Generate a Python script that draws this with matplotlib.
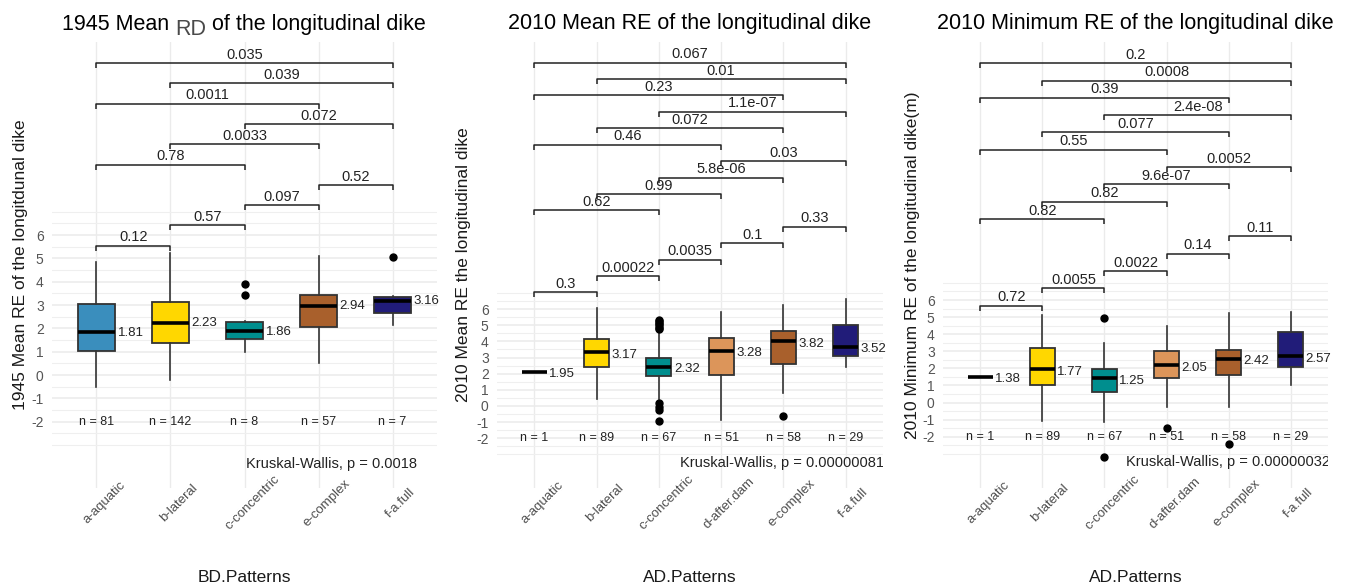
import numpy as np
import matplotlib
matplotlib.use("Agg")
import matplotlib.pyplot as plt
from matplotlib.transforms import blended_transform_factory, ScaledTranslation

plt.rcParams["font.family"] = ["Liberation Sans", "DejaVu Sans"]
plt.rcParams["axes.unicode_minus"] = False

# ---- data ----
colors = {
    "a-aquatic": "#3a8ebd",
    "b-lateral": "#ffd700",
    "c-concentric": "#008e8e",
    "d-after.dam": "#dc955a",
    "e-complex": "#a9602c",
    "f-a.full": "#211c79",
}

# panel 1 (1945, BD.Patterns)
p1_cats = ["a-aquatic", "b-lateral", "c-concentric", "e-complex", "f-a.full"]
p1_n = [81, 142, 8, 57, 7]
p1_whislo = [-0.5, -0.21, 0.99, 0.51, 2.14]
p1_q1 = [1.03, 1.37, 1.54, 2.06, 2.66]
p1_med = [1.83, 2.23, 1.89, 2.96, 3.17]
p1_q3 = [3.03, 3.13, 2.27, 3.43, 3.34]
p1_whishi = [4.86, 5.23, 2.3, 5.1, 3.4]
p1_fliers = [[], [], [3.43, 3.9], [], [5.06]]
p1_means = [1.81, 2.23, 1.86, 2.94, 3.16]
p1_pvals = ["0.12", "0.57", "0.097", "0.52", "0.78", "0.0033", "0.072",
            "0.0011", "0.039", "0.035"]
p1_kw = "Kruskal-Wallis, p = 0.0018"

# panel 2 (2010 mean, AD.Patterns)
p2_cats = ["a-aquatic", "b-lateral", "c-concentric", "d-after.dam",
           "e-complex", "f-a.full"]
p2_n = [1, 89, 67, 51, 58, 29]
p2_whislo = [2.1, 0.43, 0.4, -0.87, 0.79, 2.4]
p2_q1 = [2.1, 2.44, 1.86, 1.93, 2.59, 3.1]
p2_med = [2.1, 3.33, 2.44, 3.41, 4.0, 3.68]
p2_q3 = [2.1, 4.16, 2.96, 4.24, 4.62, 4.99]
p2_whishi = [2.1, 6.1, 4.6, 5.82, 6.27, 6.64]
p2_fliers = [[], [],
             [4.75, 4.85, 4.95, 5.05, 5.15, 5.25, 5.3, 0.17, -0.04, -0.25, -0.91],
             [], [-0.6], []]
p2_means = [1.95, 3.17, 2.32, 3.28, 3.82, 3.52]
p2_pvals = ["0.3", "0.00022", "0.0035", "0.1", "0.33", "0.62", "0.99",
            "5.8e-06", "0.03", "0.46", "0.072", "1.1e-07", "0.23", "0.01", "0.067"]
p2_kw = "Kruskal-Wallis, p = 0.00000081"

# panel 3 (2010 minimum, AD.Patterns)
p3_cats = p2_cats
p3_n = [1, 89, 67, 51, 58, 29]
p3_whislo = [1.5, -1.07, -1.13, -0.25, -0.28, 1.02]
p3_q1 = [1.5, 1.02, 0.6, 1.41, 1.61, 2.06]
p3_med = [1.5, 1.97, 1.45, 2.19, 2.55, 2.73]
p3_q3 = [1.5, 3.2, 1.97, 3.01, 3.07, 4.13]
p3_whishi = [1.5, 5.12, 3.46, 4.47, 5.25, 5.3]
p3_fliers = [[], [], [4.96, -3.17], [-1.46], [-2.4], []]
p3_means = [1.38, 1.77, 1.25, 2.05, 2.42, 2.57]
p3_pvals = ["0.72", "0.0055", "0.0022", "0.14", "0.11", "0.82", "0.82",
            "9.6e-07", "0.0052", "0.55", "0.077", "2.4e-08", "0.39", "0.0008", "0.2"]
p3_kw = "Kruskal-Wallis, p = 0.00000032"

W, H = 1349, 583
fig = plt.figure(figsize=(W / 100, H / 100), dpi=100)
TOP, BOTTOM = 42, 488


def make_axes(left, width):
    return fig.add_axes([left / W, (H - BOTTOM) / H, width / W, (BOTTOM - TOP) / H])


def draw_panel(ax, cats, n, whislo, q1, med, q3, whishi, fliers, means, pvals,
               kw, ylim, width, br_start, br_step, kw_pos, ylabel, ylab_x, xlabel):
    xs = np.arange(1, len(cats) + 1)
    stats = []
    for i in range(len(cats)):
        stats.append(dict(whislo=whislo[i], q1=q1[i], med=med[i], q3=q3[i],
                          whishi=whishi[i], fliers=fliers[i]))
    bp = ax.bxp(stats, positions=xs, widths=width, patch_artist=True,
                showcaps=False,
                boxprops=dict(edgecolor="#333333", linewidth=1.3),
                medianprops=dict(color="black", linewidth=2.6),
                whiskerprops=dict(color="#333333", linewidth=1.2),
                flierprops=dict(marker="o", markerfacecolor="black",
                                markeredgecolor="black", markersize=5))
    for patch, c in zip(bp["boxes"], cats):
        patch.set_facecolor(colors[c])
    for b in bp["boxes"]:
        b.set_zorder(2)

    # value labels and counts
    for x, m, k in zip(xs, means, n):
        ax.text(x + width / 2 + 0.04, m, f"{m:.2f}", ha="left", va="center",
                fontsize=9.5, color="#222222")
        ax.text(x, -2, f"n = {k}", ha="center", va="center", fontsize=9,
                color="#222222")

    ax.set_xlim(0.4, len(cats) + 0.6)
    ax.set_ylim(*ylim)

    # significance brackets, stacked
    bbox = ax.get_window_extent()
    px_per_unit = bbox.height / (ylim[1] - ylim[0])
    tip = 5 / px_per_unit
    pairs = []
    for gap in range(1, len(cats)):
        for i in range(len(cats) - gap):
            pairs.append((xs[i], xs[i + gap]))
    for k, ((a, b), lab) in enumerate(zip(pairs, pvals)):
        y = br_start + k * br_step
        ax.plot([a, a, b, b], [y - tip, y, y, y - tip], color="#222222", lw=1.1,
                solid_capstyle="butt")
        ax.annotate(lab, ((a + b) / 2, y), xytext=(0, 1), textcoords="offset points",
                    ha="center", va="bottom", fontsize=10.5, color="#222222")

    ax.text(kw_pos[0], kw_pos[1], kw, ha="left", va="center", fontsize=10.5,
            color="#222222", clip_on=True)

    # grid & axes styling
    ax.set_xticks(xs)
    ax.set_xticklabels([])
    ax.set_yticks(np.arange(-2, 7))
    ax.set_yticks(np.arange(-3, 7.01, 0.5), minor=True)
    ax.grid(axis="x", which="major", color="#ebebeb", lw=1.0)
    ax.grid(axis="y", which="major", color="#ebebeb", lw=1.1)
    ax.grid(axis="y", which="minor", color="#efefef", lw=0.8)
    ax.set_axisbelow(True)
    ax.tick_params(which="both", length=0)
    ax.tick_params(axis="y", labelsize=10, labelcolor="#555555", pad=6)
    for s in ax.spines.values():
        s.set_visible(False)

    trans = blended_transform_factory(ax.transData, ax.transAxes) + \
        ScaledTranslation(8 / 100, -15 / 100, fig.dpi_scale_trans)
    for x, c in zip(xs, cats):
        ax.text(x, 0, c, transform=trans, rotation=45, ha="center", va="center",
                fontsize=9.5, color="#4d4d4d")

    ax.set_ylabel(ylabel, fontsize=12.5, color="#1a1a1a", va="center")
    ax.yaxis.set_label_coords(ylab_x, 0.5)
    c_x = (bbox.x0 + bbox.x1) / 2 / W
    fig.text(c_x, 1 - 577 / H, xlabel, ha="center", va="center", fontsize=12.5,
             color="#1a1a1a")


ax1 = make_axes(52, 385)
ax2 = make_axes(497, 386)
ax3 = make_axes(943, 385)

draw_panel(ax1, p1_cats, p1_n, p1_whislo, p1_q1, p1_med, p1_q3, p1_whishi,
           p1_fliers, p1_means, p1_pvals, p1_kw, (-4.84, 14.27), 0.49,
           5.54, 0.869, (3.02, -3.81),
           "1945 Mean RE of the longitdunal dike", -0.083, "BD.Patterns")
draw_panel(ax2, p2_cats, p2_n, p2_whislo, p2_q1, p2_med, p2_q3, p2_whishi,
           p2_fliers, p2_means, p2_pvals, p2_kw, (-5.09, 22.57), 0.4,
           7.04, 1.018, (3.34, -3.54),
           "2010 Mean RE the longitudinal dike", -0.088, "AD.Patterns")
draw_panel(ax3, p3_cats, p3_n, p3_whislo, p3_q1, p3_med, p3_q3, p3_whishi,
           p3_fliers, p3_means, p3_pvals, p3_kw, (-5.0, 21.1), 0.4,
           5.67, 1.0136, (3.34, -3.5),
           "2010 Minimum RE of the longitudinal dike(m)", -0.078, "AD.Patterns")

# titles
ax2.set_title("2010 Mean RE of the longitudinal dike", fontsize=15.5, pad=9)
ax3.set_title("2010 Minimum RE of the longitudinal dike", fontsize=15.5, pad=9)

# panel 1 title has a lowered, greyer "RD"
up = ScaledTranslation(0, 12 / 100, fig.dpi_scale_trans)
t1 = ax1.text(0.026, 1, "1945 Mean ", transform=ax1.transAxes + up,
              ha="left", va="baseline", fontsize=15.5)
t2 = ax1.annotate("RD", xy=(1, 0), xycoords=t1, xytext=(0, -3.6),
                  textcoords="offset points", ha="left", va="bottom",
                  fontsize=15.5, color="#4a4a4a")
t3 = ax1.annotate(" of the longitudinal dike", xy=(1, 0), xycoords=t2,
                  xytext=(0, 3.6), textcoords="offset points", ha="left",
                  va="bottom", fontsize=15.5)

fig.savefig("out.png", dpi=100)
